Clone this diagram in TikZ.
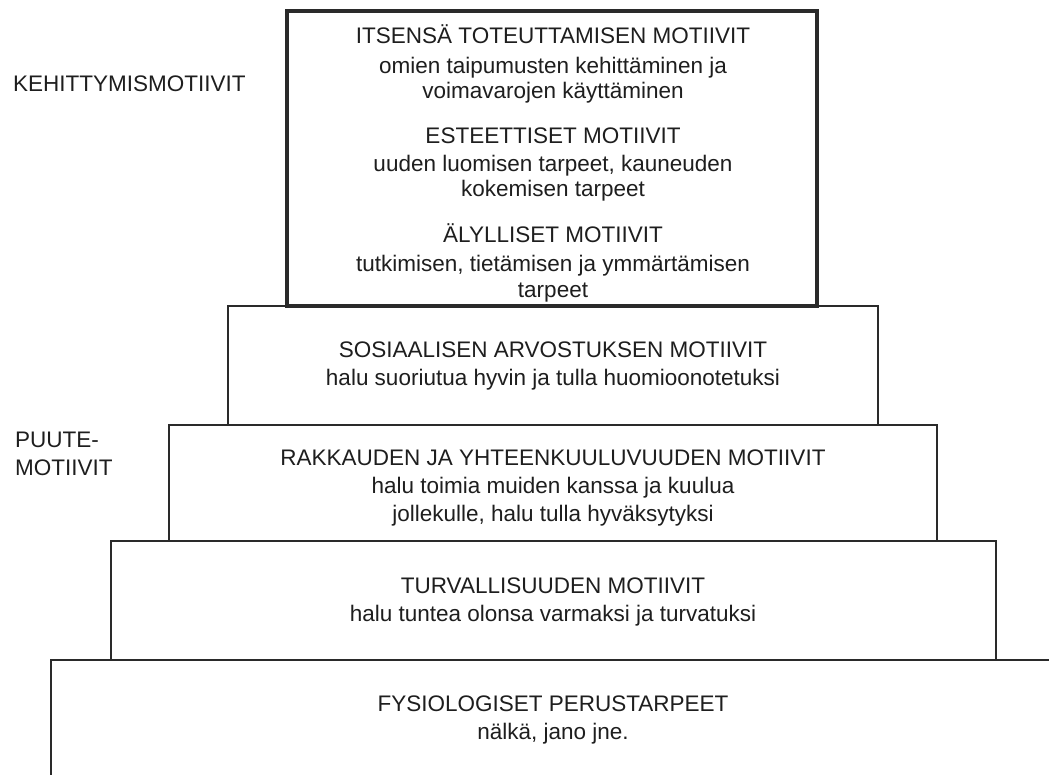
\documentclass[tikz,border=0pt]{standalone}
\usepackage{fontspec}
\setmainfont{Liberation Sans}
\definecolor{ink}{HTML}{1E1E1E}
\definecolor{rule}{HTML}{2A2A2A}
\begin{document}
\begin{tikzpicture}[x=1pt,y=-1pt,
  txt/.style={anchor=base,inner sep=0pt,text=ink,font=\fontsize{22.5}{27}\selectfont},
  side/.style={txt,anchor=base west},
  tier/.style={draw=rule,line width=2pt},
  crown/.style={draw=rule,line width=4pt,line join=miter}]
\useasboundingbox (0,0) rectangle (1049,774);
\fill[white] (0,0) rectangle (1049,774);
\begin{scope}
\clip (0,0) rectangle (1049,774);
% stepped tiers, widest at the bottom
\draw[tier] (51,660) rectangle (1055,800);
\draw[tier] (111,541) rectangle (996,660);
\draw[tier] (169,425) rectangle (937,541);
\draw[tier] (228,306) rectangle (878,425);
\draw[crown] (287,11) rectangle (817,306);
\end{scope}

% growth motives (top tier)
\node[txt] (g1a) at (553,43) {ITSENSÄ TOTEUTTAMISEN MOTIIVIT};
\node[txt] (g1b) at (553,73) {omien taipumusten kehittäminen ja};
\node[txt] (g1c) at (553,98) {voimavarojen käyttäminen};
\node[txt] (g2a) at (553,143) {ESTEETTISET MOTIIVIT};
\node[txt] (g2b) at (553,171) {uuden luomisen tarpeet, kauneuden};
\node[txt] (g2c) at (553,196) {kokemisen tarpeet};
\node[txt] (g3a) at (553,242) {ÄLYLLISET MOTIIVIT};
\node[txt] (g3b) at (553,271) {tutkimisen, tietämisen ja ymmärtämisen};
\node[txt] (g3c) at (553,297) {tarpeet};

% deficiency motives
\node[txt] (d1a) at (553,357) {SOSIAALISEN ARVOSTUKSEN MOTIIVIT};
\node[txt] (d1b) at (553,385) {halu suoriutua hyvin ja tulla huomioonotetuksi};
\node[txt] (d2a) at (553,465) {RAKKAUDEN JA YHTEENKUULUVUUDEN MOTIIVIT};
\node[txt] (d2b) at (553,493) {halu toimia muiden kanssa ja kuulua};
\node[txt] (d2c) at (553,521) {jollekulle, halu tulla hyväksytyksi};
\node[txt] (d3a) at (553,593) {TURVALLISUUDEN MOTIIVIT};
\node[txt] (d3b) at (553,621) {halu tuntea olonsa varmaksi ja turvatuksi};
\node[txt] (d4a) at (553,711) {FYSIOLOGISET PERUSTARPEET};
\node[txt] (d4b) at (553,739) {nälkä, jano jne.};

% group labels
\node[side] (growth) at (13,91) {KEHITTYMISMOTIIVIT};
\node[side] (defA) at (15,447) {PUUTE-};
\node[side] (defB) at (15,475) {MOTIIVIT};
\end{tikzpicture}
\end{document}
